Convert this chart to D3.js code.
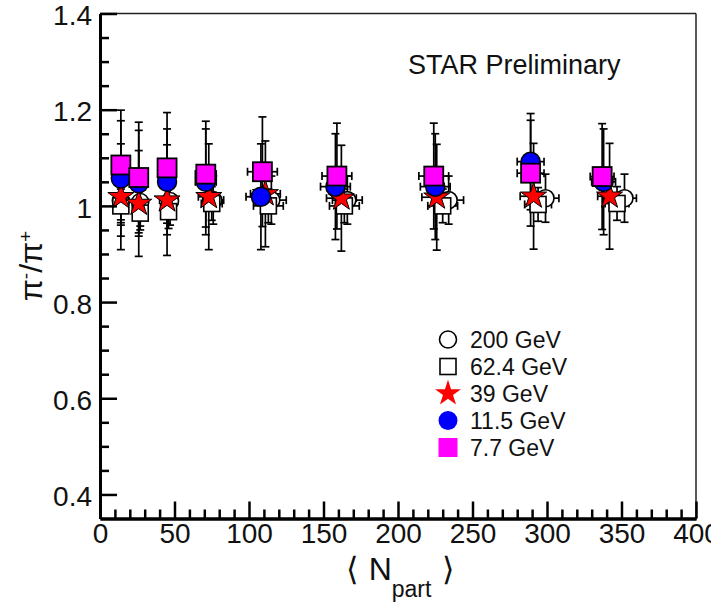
<html>
<script src='https://d3js.org/d3.v7.min.js'></script>
<style>
body {margin:0; background:#fff;}
text {font-family: 'Liberation Sans', Arial, sans-serif; fill:#111;}
.err line {stroke:#000; stroke-width:1.7;}
</style>
<body onload='init()'>
<svg width=711 height=603></svg>
<script>
// pi-/pi+ ratio vs <Npart>
const npart200 = [14, 27, 47, 76, 115, 166, 234, 299, 352];
const ratio200 = [1.010, 1.008, 1.010, 1.012, 1.012, 1.012, 1.012, 1.016, 1.016];
const yerr200  = [0.05, 0.05, 0.05, 0.05, 0.05, 0.05, 0.05, 0.05, 0.05];

const npart62 = [14, 27, 46, 75, 113, 164, 230, 294, 347];
const ratio62 = [1.000, 0.985, 0.988, 1.005, 1.000, 1.000, 1.000, 1.003, 1.005];
const yerr62  = [0.035, 0.035, 0.035, 0.035, 0.035, 0.035, 0.035, 0.035, 0.035];

const npart39 = [14, 26, 45, 73, 111, 162, 226, 291, 342];
const ratio39 = [1.019, 1.005, 1.012, 1.019, 1.025, 1.016, 1.018, 1.020, 1.020];
const yerr39  = [0.11, 0.11, 0.115, 0.11, 0.11, 0.11, 0.11, 0.11, 0.11];

const npart11 = [14, 26, 45, 71, 108, 158, 225, 289, 338];
const ratio11 = [1.057, 1.047, 1.050, 1.050, 1.019, 1.040, 1.040, 1.092, 1.050];
const yerr11  = [0.12, 0.11, 0.11, 0.11, 0.11, 0.11, 0.11, 0.10, 0.11];

const npart7 = [14, 26, 45, 71, 109, 159, 224, 289, 337];
const ratio7 = [1.085, 1.059, 1.079, 1.066, 1.071, 1.062, 1.062, 1.068, 1.061];
const yerr7  = [0.114, 0.115, 0.115, 0.11, 0.114, 0.11, 0.11, 0.11, 0.11];

const xerr = [3, 4, 5, 7, 10, 10, 10, 9, 8];

const legendLabels = ['200 GeV', '62.4 GeV', '39 GeV', '11.5 GeV', '7.7 GeV'];
const xTicks = [0, 50, 100, 150, 200, 250, 300, 350, 400];
const yTicks = [0.4, 0.6, 0.8, 1.0, 1.2, 1.4];

function init() {
  var svg = d3.select('svg');
  var xs = d3.scaleLinear().domain([0, 400]).range([100, 696]);
  var ys = d3.scaleLinear().domain([0.35, 1.4]).range([518.5, 13.5]);

  var series = [
    {n: npart200, r: ratio200, e: yerr200, kind: 'ocircle'},
    {n: npart62,  r: ratio62,  e: yerr62,  kind: 'osquare'},
    {n: npart39,  r: ratio39,  e: yerr39,  kind: 'star'},
    {n: npart11,  r: ratio11,  e: yerr11,  kind: 'circle'},
    {n: npart7,   r: ratio7,   e: yerr7,   kind: 'square'}
  ];

  function marker(sel, kind, legend) {
    var stroke = legend ? 'none' : '#000';
    if (kind == 'ocircle') sel.append('circle').attr('r', 8.5).attr('fill', '#fff').attr('stroke', '#000').attr('stroke-width', 1.6);
    if (kind == 'osquare') sel.append('rect').attr('x', -8).attr('y', -8).attr('width', 16).attr('height', 16).attr('fill', '#fff').attr('stroke', '#000').attr('stroke-width', 1.6);
    if (kind == 'star') sel.append('path').attr('d', d3.symbol(d3.symbolStar, 210)()).attr('fill', '#ff0000').attr('stroke', stroke).attr('stroke-width', 1);
    if (kind == 'circle') sel.append('circle').attr('r', 9.5).attr('fill', '#0000ff').attr('stroke', stroke).attr('stroke-width', 1.5);
    if (kind == 'square') sel.append('rect').attr('x', -9.5).attr('y', -9.5).attr('width', 19).attr('height', 19).attr('fill', '#ff00ff').attr('stroke', stroke).attr('stroke-width', 1.8);
  }

  // error bars first
  series.forEach(function(s) {
    var g = svg.append('g').attr('class', 'err');
    s.n.forEach(function(n, i) {
      var cx = xs(n), cy = ys(s.r[i]);
      var y1 = ys(s.r[i] + s.e[i]), y2 = ys(s.r[i] - s.e[i]);
      var x1 = xs(n - xerr[i]), x2 = xs(n + xerr[i]);
      g.append('line').attr('x1', cx).attr('x2', cx).attr('y1', y1).attr('y2', y2);
      g.append('line').attr('x1', cx - 4).attr('x2', cx + 4).attr('y1', y1).attr('y2', y1);
      g.append('line').attr('x1', cx - 4).attr('x2', cx + 4).attr('y1', y2).attr('y2', y2);
      g.append('line').attr('x1', x1).attr('x2', x2).attr('y1', cy).attr('y2', cy);
      g.append('line').attr('x1', x1).attr('x2', x1).attr('y1', cy - 4).attr('y2', cy + 4);
      g.append('line').attr('x1', x2).attr('x2', x2).attr('y1', cy - 4).attr('y2', cy + 4);
    });
  });

  // markers
  series.forEach(function(s) {
    s.n.forEach(function(n, i) {
      var g = svg.append('g').attr('transform', 'translate(' + xs(n) + ',' + ys(s.r[i]) + ')');
      marker(g, s.kind, false);
    });
  });

  // frame
  svg.append('line').attr('x1', 100).attr('x2', 696).attr('y1', 13.5).attr('y2', 13.5).attr('stroke', '#222').attr('stroke-width', 1.5);
  svg.append('line').attr('x1', 696).attr('x2', 696).attr('y1', 13.5).attr('y2', 518.5).attr('stroke', '#222').attr('stroke-width', 1.5);

  // axes
  var minorX = d3.range(10, 400, 10).filter(function(v) { return v % 50 != 0; });
  var minorY = d3.range(0.45, 1.4, 0.05).filter(function(v) { return Math.abs(v * 5 - Math.round(v * 5)) > 0.01; });

  var ax = svg.append('g').attr('transform', 'translate(0,518.5)')
    .call(d3.axisBottom(xs).tickValues(xTicks).tickSizeInner(-17).tickSizeOuter(0).tickPadding(5).tickFormat(d3.format('d')));
  svg.append('g').attr('transform', 'translate(0,518.5)')
    .call(d3.axisBottom(xs).tickValues(minorX).tickSizeInner(-9).tickSizeOuter(0).tickFormat(''));
  var ay = svg.append('g').attr('transform', 'translate(100,0)')
    .call(d3.axisLeft(ys).tickValues(yTicks).tickSizeInner(-17).tickSizeOuter(0).tickPadding(8).tickFormat(d3.format('~g')));
  svg.append('g').attr('transform', 'translate(100,0)')
    .call(d3.axisLeft(ys).tickValues(minorY).tickSizeInner(-9).tickSizeOuter(0).tickFormat(''));

  svg.selectAll('.domain').attr('stroke', '#000').attr('stroke-width', 3);
  svg.selectAll('.tick line').attr('stroke', '#000').attr('stroke-width', 2.5);
  svg.selectAll('.tick text').attr('font-family', "'Liberation Sans', Arial, sans-serif").attr('font-size', 28).attr('fill', '#111');
  ax.selectAll('.tick text').attr('dy', '0.71em');
  ay.selectAll('.tick text').attr('dy', '0.4em');

  // axis titles
  var yt = svg.append('text').attr('transform', 'translate(42,266) rotate(-90)')
    .attr('text-anchor', 'middle').attr('font-size', 32);
  yt.append('tspan').text('\u03C0');
  yt.append('tspan').attr('baseline-shift', '55%').attr('font-size', 19).text('-');
  yt.append('tspan').text('/\u03C0');
  yt.append('tspan').attr('baseline-shift', '55%').attr('font-size', 19).text('+');

  var xt = svg.append('text').attr('x', 400).attr('y', 580).attr('text-anchor', 'middle').attr('font-size', 32);
  xt.append('tspan').attr('font-family', 'DejaVu Sans').attr('font-weight', 200).text('\u27E8  ');
  xt.append('tspan').text('N');
  xt.append('tspan').attr('dy', 17).attr('font-size', 23).text('part');
  xt.append('tspan').attr('dy', -17).attr('font-family', 'DejaVu Sans').attr('font-weight', 200).text('  \u27E9');

  svg.append('text').attr('x', 408).attr('y', 74).attr('font-size', 27).text('STAR Preliminary');

  // legend
  var kinds = ['ocircle', 'osquare', 'star', 'circle', 'square'];
  legendLabels.forEach(function(lab, i) {
    var y = 339.5 + i * 27;
    var g = svg.append('g').attr('transform', 'translate(448,' + y + ')');
    marker(g, kinds[i], true);
    svg.append('text').attr('x', 470).attr('y', y).attr('dy', '0.36em').attr('font-size', 23).text(lab);
  });
}
</script>
</body>
</html>
